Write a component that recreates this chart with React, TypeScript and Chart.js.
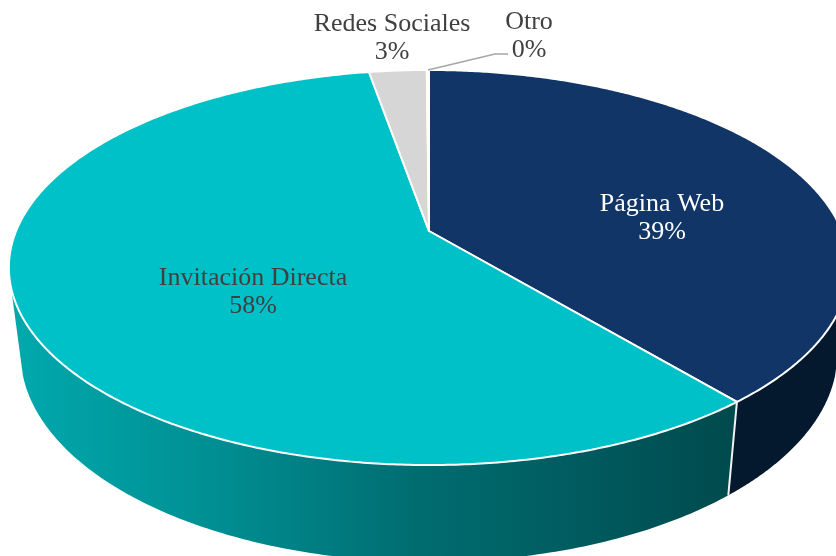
import React, { useEffect, useRef } from "react";
import Chart from "chart.js/auto";

const categories = ["Página Web", "Invitación Directa", "Redes Sociales", "Otro"];
const shares = [38.95, 58.3, 2.65, 0.1];
const faceColors = ["#113567", "#00C1C7", "#D6D6D6", "#D6D6D6"];
const labelColors = ["#FFFFFF", "#404040", "#404040", "#404040"];
const labelAnchors = [[662, 217], [253, 291], [392, 37], [529, 35]];
const FONT = "26px 'Liberation Serif', serif";

// Perspective of the disc: the centre sits above the middle of the ellipse.
const P = { cx: 429, cy: 231, a: 412.9, b: 190.8, p: -0.1848 };
const Low = { sx: 0.972, sy: 1.055, cy: 315 };

function project(angle: number) {
  const u = Math.cos(angle);
  const v = Math.sin(angle);
  const w = 1 + P.p * v;
  return { x: P.cx + (P.a * u) / w, y: P.cy + (P.b * v) / w };
}
function lower(pt: { x: number; y: number }) {
  return { x: P.cx + Low.sx * (pt.x - P.cx), y: Low.cy + Low.sy * (pt.y - P.cy) };
}

const SIDE_LEFT = Math.PI * (253.5 - 90) / 180;
const SIDE_RIGHT = Math.PI * (106.5 - 90) / 180;

const pie3d = {
  id: "pie3d",
  beforeDatasetDraw(chart: any) {
    const ctx: CanvasRenderingContext2D = chart.ctx;
    const arcs = chart.getDatasetMeta(0).data;
    const grad = ctx.createLinearGradient(20, 0, 735, 0);
    grad.addColorStop(0, "#00A8AC");
    grad.addColorStop(0.27, "#008F93");
    grad.addColorStop(0.55, "#006D71");
    grad.addColorStop(1, "#004A4D");
    const sides = [
      { s: Math.max(arcs[0].startAngle, SIDE_RIGHT), e: arcs[0].endAngle, fill: "#04182E" },
      { s: arcs[1].startAngle, e: Math.min(arcs[1].endAngle, SIDE_LEFT), fill: grad },
    ];
    const n = 160;
    sides.forEach(({ s, e, fill }) => {
      ctx.beginPath();
      for (let i = 0; i <= n; i++) {
        const p = project(s + ((e - s) * i) / n);
        i === 0 ? ctx.moveTo(p.x, p.y) : ctx.lineTo(p.x, p.y);
      }
      for (let i = n; i >= 0; i--) {
        const p = lower(project(s + ((e - s) * i) / n));
        ctx.lineTo(p.x, p.y);
      }
      ctx.closePath();
      ctx.fillStyle = fill as any;
      ctx.fill();
    });
    // seam between the two visible side walls
    const seamTop = project(arcs[1].startAngle);
    const seamLow = lower(seamTop);
    ctx.beginPath();
    ctx.moveTo(seamTop.x, seamTop.y);
    ctx.lineTo(seamLow.x, seamLow.y);
    ctx.strokeStyle = "#F2F2F2";
    ctx.lineWidth = 2;
    ctx.stroke();
    // top faces
    arcs.forEach((arc: any, idx: number) => {
      ctx.beginPath();
      ctx.moveTo(P.cx, P.cy);
      const steps = Math.max(2, Math.ceil((arc.endAngle - arc.startAngle) * 120));
      for (let i = 0; i <= steps; i++) {
        const p = project(arc.startAngle + ((arc.endAngle - arc.startAngle) * i) / steps);
        ctx.lineTo(p.x, p.y);
      }
      ctx.closePath();
      ctx.fillStyle = faceColors[idx];
      ctx.fill();
      ctx.strokeStyle = "#FFFFFF";
      ctx.lineWidth = 2;
      ctx.lineJoin = "round";
      ctx.stroke();
    });
    return false;
  },
  afterDraw(chart: any) {
    const ctx: CanvasRenderingContext2D = chart.ctx;
    ctx.save();
    // leader line of the smallest slice
    ctx.beginPath();
    ctx.moveTo(428, 70);
    ctx.lineTo(495, 54);
    ctx.lineTo(508, 54);
    ctx.strokeStyle = "#A6A6A6";
    ctx.lineWidth = 1.6;
    ctx.stroke();
    ctx.font = FONT;
    ctx.textAlign = "center";
    ctx.textBaseline = "middle";
    categories.forEach((name, i) => {
      const [x, y] = labelAnchors[i];
      ctx.fillStyle = labelColors[i];
      ctx.fillText(name, x, y - 13);
      ctx.fillText(`${Math.round(shares[i])}%`, x, y + 15);
    });
    ctx.restore();
  },
};

export default function App() {
  const ref = useRef<HTMLCanvasElement>(null);
  useEffect(() => {
    document.body.style.margin = "0";
    document.body.style.background = "#FFFFFF";
    const chart = new Chart(ref.current!, {
      type: "pie",
      data: {
        labels: categories,
        datasets: [{ data: shares, backgroundColor: faceColors, borderWidth: 0 }],
      },
      options: {
        responsive: false,
        animation: false,
        plugins: { legend: { display: false }, tooltip: { enabled: false } },
      },
      plugins: [pie3d as any],
    });
    return () => chart.destroy();
  }, []);
  return <canvas ref={ref} width={836} height={556} style={{ display: "block" }} />;
}
